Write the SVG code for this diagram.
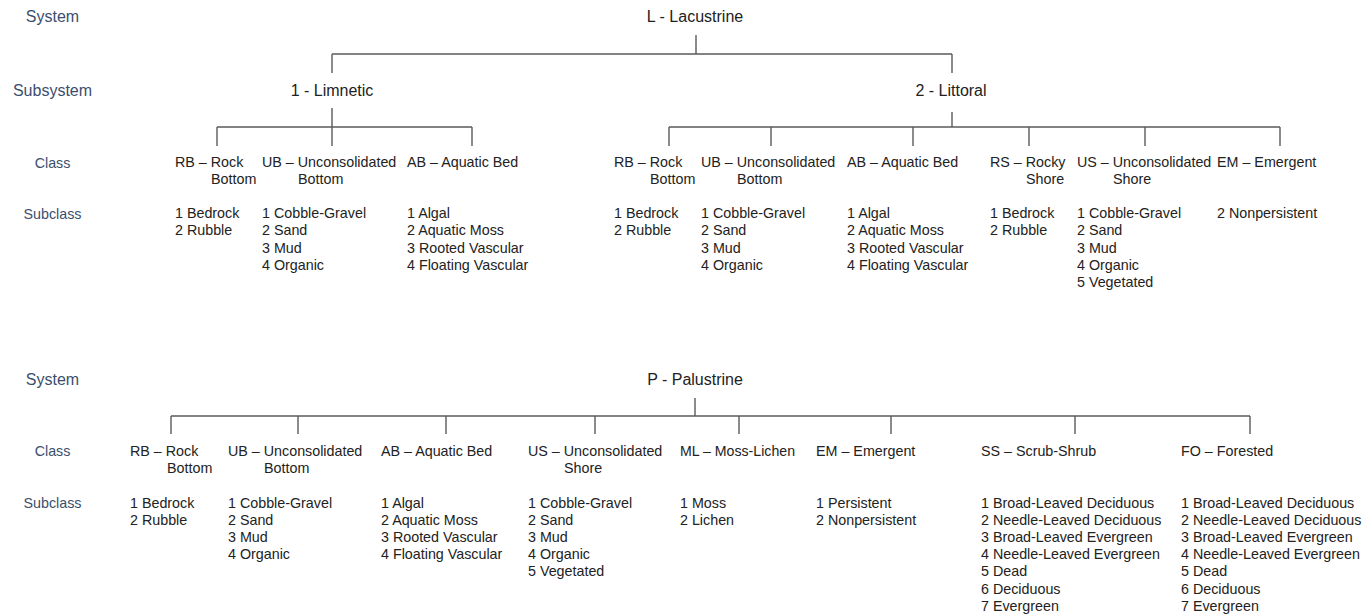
<svg xmlns="http://www.w3.org/2000/svg" width="1365" height="615" viewBox="0 0 1365 615">
<style>
text{font-family:"Liberation Sans",Arial,sans-serif;fill:#222222;font-size:14.3px}
.lbl{fill:#3b4e6e;text-anchor:middle}
.big{font-size:16px}
.mid{text-anchor:middle}
.conn line{stroke:#5a5a5a;stroke-width:1.4;fill:none}
</style>
<rect width="1365" height="615" fill="#ffffff"/>
<g id="row-labels">
<text class="lbl big" x="52.5" y="22">System</text>
<text class="lbl big" x="52.5" y="96">Subsystem</text>
<text class="lbl" x="52.5" y="168">Class</text>
<text class="lbl" x="52.5" y="219">Subclass</text>
<text class="lbl big" x="52.5" y="385">System</text>
<text class="lbl" x="52.5" y="456">Class</text>
<text class="lbl" x="52.5" y="508">Subclass</text>
</g>
<g class="conn" id="connectors">
<line x1="696" y1="35" x2="696" y2="54"/>
<line x1="332" y1="54" x2="952" y2="54"/>
<line x1="332" y1="54" x2="332" y2="73"/>
<line x1="952" y1="54" x2="952" y2="73"/>
<line x1="332" y1="108" x2="332" y2="146"/>
<line x1="217" y1="127" x2="472" y2="127"/>
<line x1="217" y1="127" x2="217" y2="146"/>
<line x1="472" y1="127" x2="472" y2="146"/>
<line x1="952" y1="112" x2="952" y2="127"/>
<line x1="669" y1="127" x2="1280" y2="127"/>
<line x1="669" y1="127" x2="669" y2="146"/>
<line x1="771" y1="127" x2="771" y2="146"/>
<line x1="913" y1="127" x2="913" y2="146"/>
<line x1="1029" y1="127" x2="1029" y2="146"/>
<line x1="1145" y1="127" x2="1145" y2="146"/>
<line x1="1280" y1="127" x2="1280" y2="146"/>
<line x1="695" y1="398" x2="695" y2="416"/>
<line x1="171" y1="416" x2="1250" y2="416"/>
<line x1="171" y1="416" x2="171" y2="434"/>
<line x1="298" y1="416" x2="298" y2="434"/>
<line x1="446" y1="416" x2="446" y2="434"/>
<line x1="595" y1="416" x2="595" y2="434"/>
<line x1="739" y1="416" x2="739" y2="434"/>
<line x1="891" y1="416" x2="891" y2="434"/>
<line x1="1075" y1="416" x2="1075" y2="434"/>
<line x1="1250" y1="416" x2="1250" y2="434"/>
</g>
<g id="L-lacustrine"><text class="big mid" x="695" y="22">L - Lacustrine</text></g>
<g id="L1-limnetic"><text class="big mid" x="332" y="96">1 - Limnetic</text></g>
<g id="L2-littoral"><text class="big mid" x="951" y="96">2 - Littoral</text></g>
<g id="L1-RB">
<text x="175" y="167">RB – Rock</text><text x="211" y="184">Bottom</text>
<text x="175" y="218"><tspan x="175">1 Bedrock</tspan><tspan x="175" dy="17.3">2 Rubble</tspan></text>
</g>
<g id="L1-UB">
<text x="262" y="167">UB – Unconsolidated</text><text x="298" y="184">Bottom</text>
<text x="262" y="218"><tspan x="262">1 Cobble-Gravel</tspan><tspan x="262" dy="17.3">2 Sand</tspan><tspan x="262" dy="17.3">3 Mud</tspan><tspan x="262" dy="17.3">4 Organic</tspan></text>
</g>
<g id="L1-AB">
<text x="407" y="167">AB – Aquatic Bed</text>
<text x="407" y="218"><tspan x="407">1 Algal</tspan><tspan x="407" dy="17.3">2 Aquatic Moss</tspan><tspan x="407" dy="17.3">3 Rooted Vascular</tspan><tspan x="407" dy="17.3">4 Floating Vascular</tspan></text>
</g>
<g id="L2-RB">
<text x="614" y="167">RB – Rock</text><text x="650" y="184">Bottom</text>
<text x="614" y="218"><tspan x="614">1 Bedrock</tspan><tspan x="614" dy="17.3">2 Rubble</tspan></text>
</g>
<g id="L2-UB">
<text x="701" y="167">UB – Unconsolidated</text><text x="737" y="184">Bottom</text>
<text x="701" y="218"><tspan x="701">1 Cobble-Gravel</tspan><tspan x="701" dy="17.3">2 Sand</tspan><tspan x="701" dy="17.3">3 Mud</tspan><tspan x="701" dy="17.3">4 Organic</tspan></text>
</g>
<g id="L2-AB">
<text x="847" y="167">AB – Aquatic Bed</text>
<text x="847" y="218"><tspan x="847">1 Algal</tspan><tspan x="847" dy="17.3">2 Aquatic Moss</tspan><tspan x="847" dy="17.3">3 Rooted Vascular</tspan><tspan x="847" dy="17.3">4 Floating Vascular</tspan></text>
</g>
<g id="L2-RS">
<text x="990" y="167">RS – Rocky</text><text x="1026" y="184">Shore</text>
<text x="990" y="218"><tspan x="990">1 Bedrock</tspan><tspan x="990" dy="17.3">2 Rubble</tspan></text>
</g>
<g id="L2-US">
<text x="1077" y="167">US – Unconsolidated</text><text x="1113" y="184">Shore</text>
<text x="1077" y="218"><tspan x="1077">1 Cobble-Gravel</tspan><tspan x="1077" dy="17.3">2 Sand</tspan><tspan x="1077" dy="17.3">3 Mud</tspan><tspan x="1077" dy="17.3">4 Organic</tspan><tspan x="1077" dy="17.3">5 Vegetated</tspan></text>
</g>
<g id="L2-EM">
<text x="1217" y="167">EM – Emergent</text>
<text x="1217" y="218">2 Nonpersistent</text>
</g>
<g id="P-palustrine"><text class="big mid" x="695" y="385">P - Palustrine</text></g>
<g id="P-RB">
<text x="130" y="456">RB – Rock</text><text x="167" y="473">Bottom</text>
<text x="130" y="508"><tspan x="130">1 Bedrock</tspan><tspan x="130" dy="17.1">2 Rubble</tspan></text>
</g>
<g id="P-UB">
<text x="228" y="456">UB – Unconsolidated</text><text x="264" y="473">Bottom</text>
<text x="228" y="508"><tspan x="228">1 Cobble-Gravel</tspan><tspan x="228" dy="17.1">2 Sand</tspan><tspan x="228" dy="17.1">3 Mud</tspan><tspan x="228" dy="17.1">4 Organic</tspan></text>
</g>
<g id="P-AB">
<text x="381" y="456">AB – Aquatic Bed</text>
<text x="381" y="508"><tspan x="381">1 Algal</tspan><tspan x="381" dy="17.1">2 Aquatic Moss</tspan><tspan x="381" dy="17.1">3 Rooted Vascular</tspan><tspan x="381" dy="17.1">4 Floating Vascular</tspan></text>
</g>
<g id="P-US">
<text x="528" y="456">US – Unconsolidated</text><text x="564" y="473">Shore</text>
<text x="528" y="508"><tspan x="528">1 Cobble-Gravel</tspan><tspan x="528" dy="17.1">2 Sand</tspan><tspan x="528" dy="17.1">3 Mud</tspan><tspan x="528" dy="17.1">4 Organic</tspan><tspan x="528" dy="17.1">5 Vegetated</tspan></text>
</g>
<g id="P-ML">
<text x="680" y="456" textLength="115" lengthAdjust="spacingAndGlyphs">ML – Moss-Lichen</text>
<text x="680" y="508"><tspan x="680">1 Moss</tspan><tspan x="680" dy="17.1">2 Lichen</tspan></text>
</g>
<g id="P-EM">
<text x="816" y="456">EM – Emergent</text>
<text x="816" y="508"><tspan x="816">1 Persistent</tspan><tspan x="816" dy="17.1">2 Nonpersistent</tspan></text>
</g>
<g id="P-SS">
<text x="981" y="456">SS – Scrub-Shrub</text>
<text x="981" y="508"><tspan x="981">1 Broad-Leaved Deciduous</tspan><tspan x="981" dy="17.1">2 Needle-Leaved Deciduous</tspan><tspan x="981" dy="17.1">3 Broad-Leaved Evergreen</tspan><tspan x="981" dy="17.1">4 Needle-Leaved Evergreen</tspan><tspan x="981" dy="17.1">5 Dead</tspan><tspan x="981" dy="17.1">6 Deciduous</tspan><tspan x="981" dy="17.1">7 Evergreen</tspan></text>
</g>
<g id="P-FO">
<text x="1181" y="456">FO – Forested</text>
<text x="1181" y="508"><tspan x="1181">1 Broad-Leaved Deciduous</tspan><tspan x="1181" dy="17.1">2 Needle-Leaved Deciduous</tspan><tspan x="1181" dy="17.1">3 Broad-Leaved Evergreen</tspan><tspan x="1181" dy="17.1">4 Needle-Leaved Evergreen</tspan><tspan x="1181" dy="17.1">5 Dead</tspan><tspan x="1181" dy="17.1">6 Deciduous</tspan><tspan x="1181" dy="17.1">7 Evergreen</tspan></text>
</g>
</svg>
